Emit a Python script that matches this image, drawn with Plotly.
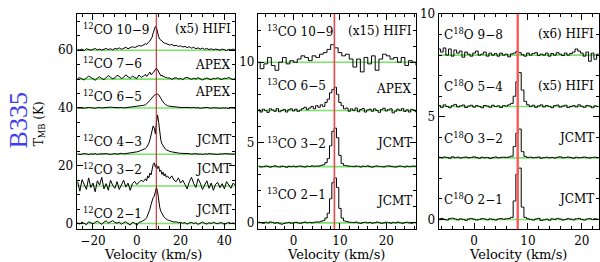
import numpy as np
import plotly.graph_objects as go

# ---------------- data ----------------
# Panel 1: 12CO, velocity grid (km/s) coarse wings + fine core
V12_CORE = [4.0, 4.5, 5.0, 5.5, 6.0, 6.5, 7.0, 7.5, 8.0, 8.5, 9.0, 9.5, 10.0,
            10.5, 11.0, 11.5, 12.0, 12.5, 13.0, 13.5, 14.0]
V12 = list(range(-27, 4)) + V12_CORE + list(range(15, 46))

CO12_21 = [0.3,-0.2,0.5,0.1,-0.4,0.6,0.2,-0.1,0.4,0.8,0.3,-0.3,0.5,0.9,0.2,0.6,1.0,0.4,0.1,0.5,-0.2,0.3,0.6,0.0,-0.5,0.4,0.2,-0.6,0.4,0.6,1.0,
           1.5,2.0,2.8,3.8,5.0,6.5,8.0,9.0,9.5,11.0,12.5,11.0,7.5,5.5,4.2,3.4,2.7,2.2,1.8,1.5,1.3,
           1.0,0.7,0.5,0.6,0.3,0.4,0.1,0.3,-0.2,0.2,0.4,0.0,0.3,-0.3,0.2,0.5,0.1,-0.2,0.3,0.0,0.4,0.1,-0.1,0.3,0.2,-0.3,0.1,0.4,0.0,0.2,-0.2]
CO12_32 = [1.5,-1.8,2.2,0.5,-1.2,2.8,-0.5,1.0,-2.0,1.8,0.3,3.0,-1.0,0.8,-1.5,2.0,0.2,-0.8,1.5,-1.2,0.6,2.0,-0.4,1.0,-1.5,0.8,1.6,0.5,1.2,2.0,1.5,
           2.5,1.8,3.5,2.8,4.5,3.8,6.0,7.5,8.0,6.5,7.5,6.0,6.8,5.0,5.5,4.0,4.8,3.5,4.2,3.0,3.5,
           2.5,3.5,2.0,1.5,2.8,1.0,2.0,0.5,-1.0,1.5,3.0,0.8,-0.5,2.5,1.0,-1.2,0.5,1.8,-0.8,1.0,-1.5,0.6,1.2,-0.6,0.8,-1.0,1.5,0.2,-0.8,1.0,0.3]
CO12_43 = [0.1,-0.1,0.0,0.2,0.1,-0.1,0.1,0.0,0.2,-0.1,0.1,0.0,0.1,0.2,0.0,-0.1,0.1,0.2,0.0,0.1,0.3,0.1,0.2,0.4,0.3,0.5,0.6,0.8,1.0,1.3,1.6,
           2.0,2.4,3.0,3.8,5.0,6.8,8.5,9.8,9.0,7.0,11.0,13.5,11.0,7.0,4.8,3.6,2.8,2.2,1.8,1.5,1.3,
           1.0,0.8,0.6,0.5,0.4,0.3,0.3,0.2,0.1,0.2,0.0,0.1,0.2,0.0,0.1,-0.1,0.1,0.0,0.2,0.1,0.0,0.1,-0.1,0.1,0.0,0.2,0.1,0.0,0.1,0.0,0.1]
CO12_65 = [0.0,0.1,0.0,-0.1,0.1,0.2,0.1,0.0,-0.1,0.1,0.2,0.0,0.1,0.2,0.1,0.3,0.2,0.1,0.0,0.1,0.2,0.0,0.1,0.2,0.1,0.2,0.3,0.4,0.5,0.7,0.9,
           1.1,1.4,1.7,2.1,2.6,3.1,3.6,4.0,4.4,4.6,4.8,4.8,4.6,4.1,3.3,2.6,2.0,1.6,1.3,1.0,0.8,
           0.6,0.5,0.4,0.3,0.3,0.2,0.1,0.2,0.1,0.0,0.1,0.2,0.0,0.1,-0.1,0.0,0.1,0.2,0.0,-0.1,0.1,0.0,0.1,-0.1,0.0,0.1,0.0,-0.2,0.1,0.0,-0.1]
CO12_76 = [0.2,0.5,0.0,-0.3,0.4,1.0,0.6,0.0,-0.4,0.3,0.8,0.2,-0.2,0.5,1.2,0.6,0.1,0.4,1.3,0.9,0.2,0.6,1.5,0.8,0.3,1.0,0.5,0.2,1.4,0.6,1.0,
           1.6,0.9,1.4,2.0,2.4,1.5,1.8,2.2,2.8,3.3,3.8,3.2,2.4,1.5,1.1,1.4,0.8,1.0,0.5,0.7,0.3,
           0.4,-0.1,0.3,0.5,0.0,0.2,-0.2,0.4,0.6,0.1,-0.1,0.3,0.0,0.5,0.2,-0.3,0.1,0.4,0.0,-0.2,0.3,0.1,0.5,0.0,-0.1,0.3,0.2,0.6,0.1,-0.2,0.2]
CO12_109 = [0.3,0.0,0.4,-0.2,0.5,0.2,0.0,0.3,0.6,0.1,0.4,0.0,0.3,0.6,0.2,0.5,0.1,0.6,0.4,0.8,0.3,0.6,1.0,0.5,0.8,1.2,0.9,1.3,1.6,1.4,1.9,
            2.2,2.0,2.6,2.9,3.2,3.8,4.5,6.0,7.5,8.2,7.8,6.0,4.6,3.8,3.4,3.0,2.8,2.5,2.4,2.2,2.0,
            1.8,2.0,1.5,1.7,1.3,1.5,1.1,1.3,0.9,1.2,0.7,1.0,0.5,0.8,0.4,0.7,0.3,0.6,0.2,0.5,0.1,0.4,0.3,0.0,0.4,0.2,-0.1,0.3,0.1,0.4,0.0]

P1_SPECTRA = [CO12_21, CO12_32, CO12_43, CO12_65, CO12_76, CO12_109]
P1_OFFSETS = [0, 13, 24, 40, 50, 60]
P1_LINES = ["<sup>12</sup>CO 2−1", "<sup>12</sup>CO 3−2", "<sup>12</sup>CO 4−3",
            "<sup>12</sup>CO 6−5", "<sup>12</sup>CO 7−6", "<sup>12</sup>CO 10−9"]
P1_TELS = ["JCMT", "JCMT", "JCMT", "APEX", "APEX", "(x5) HIFI"]

# Panel 2: 13CO, channel start / width
P2_V0, P2_DV = -7.5, 0.5
CO13_21 = [0.05,0.02,-0.03,0.04,0.0,0.06,0.03,-0.02,0.02,-0.05,-0.08,-0.04,0.0,0.03,-0.02,0.01,0.04,0.0,-0.03,0.02,0.05,0.01,0.03,0.0,0.04,0.06,
           0.05,0.1,0.15,0.3,0.6,1.5,2.5,2.8,2.2,0.9,0.3,0.12,0.08,0.05,0.03,
           0.02,0.05,0.0,-0.03,0.02,0.04,0.0,0.03,-0.02,0.01,0.05,0.02,-0.03,0.0,0.04,0.02,-0.02,0.03,0.0,0.05,0.01,-0.03,0.02,0.04,0.0,-0.02,0.03,0.01]
CO13_32 = [0.03,-0.02,0.0,0.04,0.02,-0.03,0.01,0.05,0.0,-0.02,0.03,0.01,-0.04,0.02,0.0,0.03,-0.01,0.02,0.04,0.0,-0.02,0.03,0.01,0.05,0.02,0.04,
           0.04,0.08,0.12,0.25,0.5,1.3,2.2,2.4,1.8,0.7,0.2,0.08,0.05,0.03,0.02,
           0.0,0.04,0.02,-0.02,0.03,0.01,0.05,0.0,-0.03,0.02,0.04,0.01,0.0,-0.02,0.03,0.05,0.02,0.0,-0.03,0.02,0.04,0.01,-0.02,0.03,0.0,0.02,0.04,0.01]
CO13_65 = [0.05,-0.1,0.08,0.0,-0.12,0.1,0.03,-0.05,0.12,-0.08,0.0,0.06,-0.1,0.04,0.1,-0.03,0.08,-0.06,0.02,0.12,0.2,0.05,0.15,0.25,0.1,0.3,
           0.2,0.35,0.25,0.5,0.7,1.1,1.3,1.45,1.0,0.5,0.3,0.1,0.15,-0.05,0.1,
           0.0,0.15,-0.08,0.05,0.12,-0.1,0.03,0.08,-0.05,0.1,0.0,-0.12,0.06,0.14,-0.03,0.05,0.1,-0.15,-0.05,0.08,0.0,0.12,-0.06,0.04,-0.1,0.07,0.02,-0.08]
P2_V0_HIFI, P2_DV_HIFI = -7.6, 0.8
CO13_109 = [0.0,-0.4,-0.1,0.3,-0.2,-0.5,0.0,0.3,-0.1,0.1,0.0,0.2,0.4,0.3,0.1,0.4,0.3,0.5,0.6,0.8,1.1,0.9,
            0.6,0.4,0.5,0.2,-0.3,0.2,-0.6,0.3,-0.1,0.4,-0.5,0.2,0.5,0.4,0.2,0.3,0.0,0.3,-0.2,0.1,0.0,-0.2]

P2_SPECTRA = [CO13_21, CO13_32, CO13_65, CO13_109]
P2_GRIDS = [(P2_V0, P2_DV), (P2_V0, P2_DV), (P2_V0, P2_DV), (P2_V0_HIFI, P2_DV_HIFI)]
P2_OFFSETS = [0, 3.5, 7.0, 10.0]
P2_LINES = ["<sup>13</sup>CO 2−1", "<sup>13</sup>CO 3−2", "<sup>13</sup>CO 6−5", "<sup>13</sup>CO 10−9"]
P2_TELS = ["JCMT", "JCMT", "APEX", "(x15) HIFI"]

# Panel 3: C18O
P3_V0, P3_DV = -6.5, 0.5
C18O_21 = [0.02,0.05,0.0,-0.03,0.04,0.06,0.02,-0.02,0.03,0.0,-0.04,0.02,0.05,0.01,-0.03,0.0,0.04,0.02,-0.02,0.03,0.0,-0.03,0.02,0.04,0.01,
           0.03,0.05,0.1,0.9,2.2,2.5,0.6,0.1,0.03,
           0.0,-0.03,0.02,0.05,-0.05,-0.02,0.01,-0.04,0.03,0.0,0.05,0.02,-0.03,0.0,0.04,0.01,-0.02,0.03,0.05,0.0,-0.03,0.02,0.04,0.0,0.03,0.01,-0.02]
C18O_32 = [0.03,0.0,0.04,0.02,-0.02,0.05,0.01,0.03,-0.01,0.02,0.04,0.0,0.02,0.05,0.01,-0.02,0.03,0.0,0.02,-0.03,0.01,0.04,0.0,0.02,0.03,
           0.02,0.04,0.08,0.55,1.2,1.4,0.3,0.07,0.02,
           0.03,0.0,0.02,0.04,-0.02,0.01,0.03,0.0,0.02,-0.01,0.03,0.05,0.0,0.02,0.04,0.01,-0.02,0.03,0.0,0.02,0.04,0.01,-0.01,0.02,0.03,0.0,0.02]
C18O_54 = [0.05,-0.04,0.08,0.0,-0.06,0.04,0.1,-0.02,0.03,0.07,-0.05,0.02,0.06,-0.03,0.04,0.0,-0.06,0.05,0.02,-0.04,0.06,0.0,0.03,-0.05,0.04,
           0.02,0.08,0.15,0.5,1.2,1.65,0.8,0.25,0.08,
           0.0,0.06,-0.04,0.03,0.08,-0.02,0.05,0.0,-0.06,0.04,0.07,-0.03,0.02,0.06,-0.05,0.0,0.04,-0.02,0.08,0.01,-0.04,0.05,0.02,-0.06,0.03,0.0,-0.05]
C18O_98 = [0.3,0.15,0.35,0.0,0.3,-0.05,0.25,0.1,0.2,-0.1,0.15,0.05,-0.05,0.1,0.2,0.0,0.05,0.15,-0.05,0.1,0.0,0.08,-0.05,0.1,0.0,0.05,-0.08,0.06,0.1,0.18,
           0.12,0.02,-0.05,0.1,0.0,0.08,0.12,-0.02,0.05,0.0,0.1,-0.05,0.08,0.0,0.12,0.05,-0.02,0.1,0.0,0.08,0.15,0.3,0.2,0.1,-0.05,0.15,-0.3,0.1,-0.2,0.05,-0.1]

P3_SPECTRA = [C18O_21, C18O_32, C18O_54, C18O_98]
P3_OFFSETS = [0, 3.0, 5.5, 8.0]
P3_LINES = ["C<sup>18</sup>O 2−1", "C<sup>18</sup>O 3−2", "C<sup>18</sup>O 5−4", "C<sup>18</sup>O 9−8"]
P3_TELS = ["JCMT", "JCMT", "(x5) HIFI", "(x6) HIFI"]

VLSR = [8.9, 8.8, 8.1]   # red reference line per panel (as drawn)

# ---------------- figure ----------------
W, H = 600, 262
FONT = "DejaVu Serif"
fig = go.Figure()

def px(x):
    return x / W

def py(y):
    return 1 - y / H

# panel 1
for vals, off in zip(P1_SPECTRA, P1_OFFSETS):
    fig.add_trace(go.Scatter(x=V12, y=np.array(vals) + off, mode="lines",
                             line=dict(color="black", width=1), xaxis="x", yaxis="y",
                             showlegend=False, hoverinfo="skip"))
# panel 2
for vals, (v0, dv), off in zip(P2_SPECTRA, P2_GRIDS, P2_OFFSETS):
    v = v0 + dv * np.arange(len(vals))
    fig.add_trace(go.Scatter(x=v, y=np.array(vals) + off, mode="lines",
                             line=dict(color="black", width=1, shape="hvh"),
                             xaxis="x2", yaxis="y2", showlegend=False, hoverinfo="skip"))
# panel 3
for vals, off in zip(P3_SPECTRA, P3_OFFSETS):
    v = P3_V0 + P3_DV * np.arange(len(vals))
    fig.add_trace(go.Scatter(x=v, y=np.array(vals) + off, mode="lines",
                             line=dict(color="black", width=1, shape="hvh"),
                             xaxis="x3", yaxis="y3", showlegend=False, hoverinfo="skip"))

shapes = []
GREEN = "#7be36b"
for xr, yr, offs in [("x", "y", P1_OFFSETS), ("x2", "y2", P2_OFFSETS), ("x3", "y3", P3_OFFSETS)]:
    for o in offs:
        shapes.append(dict(type="line", xref=xr + " domain", yref=yr, x0=0, x1=1, y0=o, y1=o,
                           line=dict(color=GREEN, width=1.6), layer="below"))
red_styles = [("#c01010", 1.0), ("#e84848", 1.6), ("#ff5a5a", 2.4)]
for (xr, yr), v, (c, w) in zip([("x", "y"), ("x2", "y2"), ("x3", "y3")], VLSR, red_styles):
    shapes.append(dict(type="line", xref=xr, yref=yr + " domain", x0=v, x1=v, y0=0, y1=1,
                       line=dict(color=c, width=w), layer="above"))

ann = []
def label(text, x, y, anchor):
    ann.append(dict(text=text, x=px(x), y=py(y), xref="paper", yref="paper",
                    xanchor=anchor, yanchor="middle", showarrow=False,
                    font=dict(family=FONT, size=12, color="black")))

p1_ly = [212, 167, 138, 92, 58, 23]
p1_ry = [209, 167, 137, 88, 60, 23]
for t, y in zip(P1_LINES, p1_ly):
    label(t, 81, y, "left")
for t, y in zip(P1_TELS, p1_ry):
    label(t, 233, y, "right")
p2_ly = [193, 140, 80, 25]
p2_ry = [200, 140, 85, 25]
for t, y in zip(P2_LINES, p2_ly):
    label(t, 265, y, "left")
for t, y in zip(P2_TELS, p2_ry):
    label(t, 415, y, "right")
p3_ly = [198, 135, 82, 28]
p3_ry = [198, 135, 82, 28]
for t, y in zip(P3_LINES, p3_ly):
    label(t, 443, y, "left")
for t, y in zip(P3_TELS, p3_ry):
    label(t, 597, y, "right")

for xc in [153, 337, 519]:
    ann.append(dict(text="Velocity (km/s)", x=px(xc), y=py(255), xref="paper", yref="paper",
                    xanchor="center", yanchor="middle", showarrow=False,
                    font=dict(family=FONT, size=13, color="black")))
ann.append(dict(text="T<sub>MB</sub> (K)", x=px(40), y=py(120), xref="paper", yref="paper",
                xanchor="center", yanchor="middle", showarrow=False, textangle=-90,
                font=dict(family=FONT, size=12, color="black")))
ann.append(dict(text="B335", x=px(18), y=py(117), xref="paper", yref="paper",
                xanchor="center", yanchor="middle", showarrow=False, textangle=-90,
                font=dict(family="Liberation Serif", size=26, color="#3c3cf0")))

ydom = [py(229.3), py(7.3)]
def xax(dom, rng, dt, mdt, anchor):
    return dict(domain=dom, range=rng, anchor=anchor, dtick=dt, tick0=0,
                ticks="inside", ticklen=6, tickcolor="black", mirror="allticks",
                showline=True, linecolor="black", linewidth=1, showgrid=False, zeroline=False,
                tickfont=dict(family=FONT, size=12, color="black"),
                minor=dict(dtick=mdt, ticks="inside", ticklen=3, tickcolor="black", showgrid=False))
def yax(rng, dt, mdt, anchor):
    return dict(domain=ydom, range=rng, anchor=anchor, dtick=dt, tick0=0,
                ticks="inside", ticklen=6, tickcolor="black", mirror="allticks",
                showline=True, linecolor="black", linewidth=1, showgrid=False, zeroline=False,
                tickfont=dict(family=FONT, size=12, color="black"),
                minor=dict(dtick=mdt, ticks="inside", ticklen=3, tickcolor="black", showgrid=False))

fig.update_layout(
    width=W, height=H, margin=dict(l=0, r=0, t=0, b=0),
    paper_bgcolor="white", plot_bgcolor="white",
    xaxis=xax([px(76.7), px(235.7)], [-27.5, 45], 20, 5, "y"),
    yaxis=yax([-2, 72.5], 20, 5, "x"),
    xaxis2=xax([px(258.3), px(416.7)], [-7.7, 26.4], 10, 2, "y2"),
    yaxis2=yax([-0.4, 13.0], 5, 1, "x2"),
    xaxis3=xax([px(439.3), px(599.5)], [-6.6, 23.1], 10, 2, "y3"),
    yaxis3=yax([-0.48, 10], 5, 1, "x3"),
    shapes=shapes, annotations=ann, showlegend=False,
)
fig.write_html("out.html", config={"displayModeBar": False},
               post_script="document.body.style.margin='0';document.body.style.overflow='hidden';")
